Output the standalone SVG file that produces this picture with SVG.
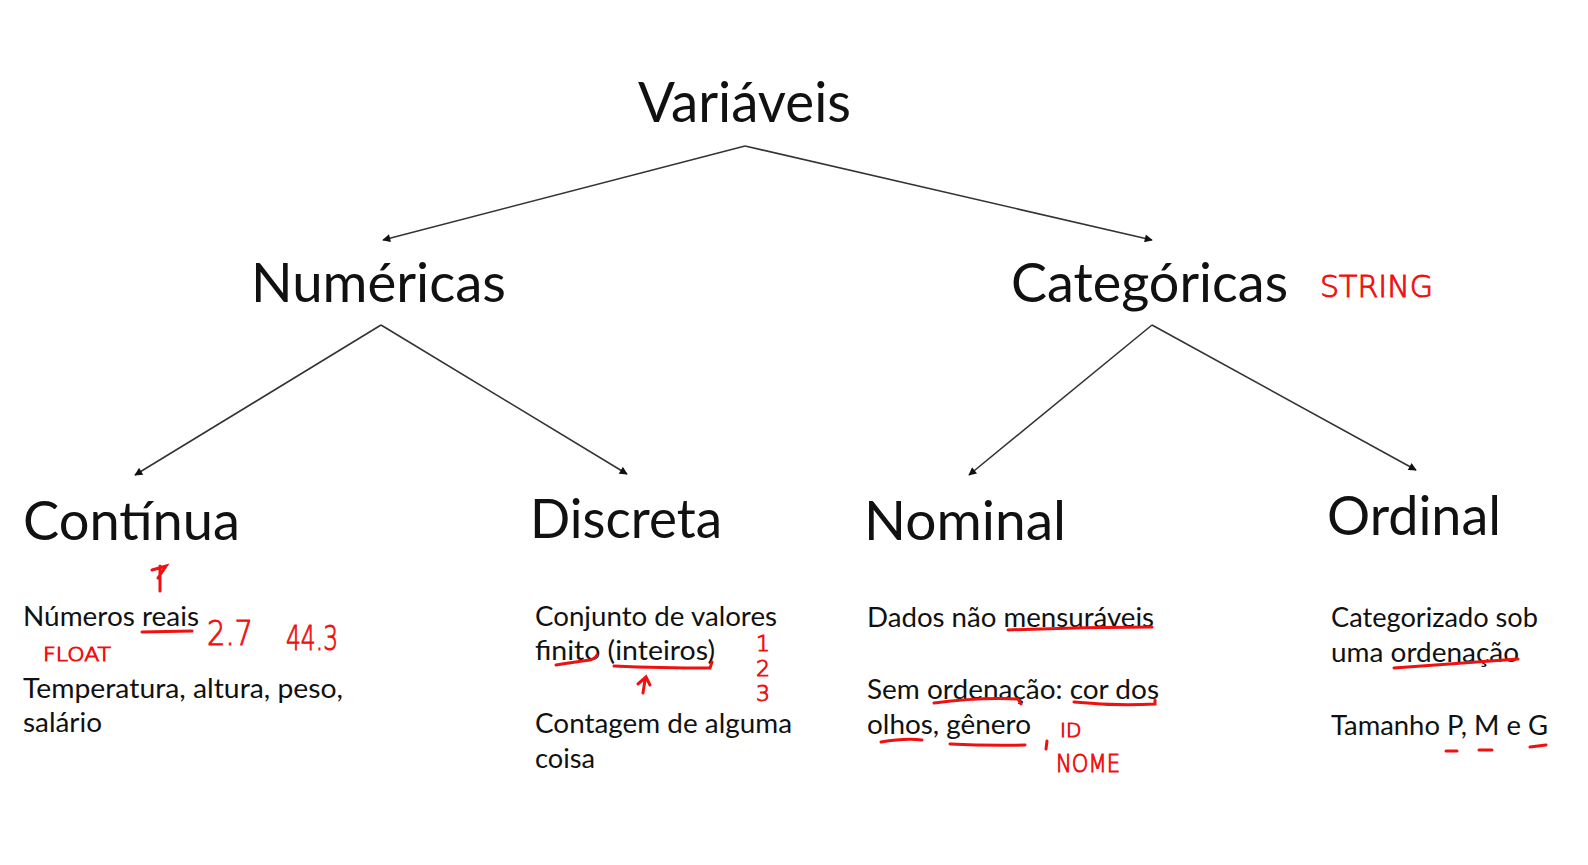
<svg xmlns="http://www.w3.org/2000/svg" width="1588" height="865" viewBox="0 0 1588 865">
<style>
.h{font-family:Lato,"Open Sans","Noto Sans",sans-serif;fill:#111;}
.t1{font-size:56px;}
.t2{font-size:54px;}
.t3{font-size:54px;}
.b{font-family:Lato,"Open Sans","Noto Sans",sans-serif;font-size:26px;fill:#111;}
.r{font-family:"DejaVu Sans",sans-serif;fill:#f01010;stroke:#f01010;stroke-width:1;font-weight:300;}
.con{stroke:#333;stroke-width:1.6;fill:none;}
.ul{stroke:#f01010;stroke-width:3;fill:none;stroke-linecap:round;}
</style>
<defs>
<marker id="ah" viewBox="0 0 10 10" refX="9" refY="5" markerWidth="9" markerHeight="8" orient="auto" markerUnits="userSpaceOnUse">
<path d="M0,0 L10,5 L0,10 z" fill="#111"/>
</marker>
</defs>
<rect width="1588" height="865" fill="#fff"/>
<g id="connectors">
<line class="con" x1="745" y1="146" x2="383" y2="240" marker-end="url(#ah)"/>
<line class="con" x1="745" y1="146" x2="1152" y2="240" marker-end="url(#ah)"/>
<line class="con" x1="381" y1="325" x2="135" y2="475" marker-end="url(#ah)"/>
<line class="con" x1="381" y1="325" x2="627" y2="474" marker-end="url(#ah)"/>
<line class="con" x1="1152" y1="325" x2="969" y2="475" marker-end="url(#ah)"/>
<line class="con" x1="1152" y1="325" x2="1416" y2="470" marker-end="url(#ah)"/>
</g>
<g id="variaveis"><text class="h t1" x="638" y="122" textLength="213" lengthAdjust="spacingAndGlyphs">Variáveis</text></g>
<g id="numericas"><text class="h t2" x="251" y="302" textLength="255" lengthAdjust="spacingAndGlyphs">Numéricas</text></g>
<g id="categoricas"><text class="h t2" x="1011" y="302" textLength="277" lengthAdjust="spacingAndGlyphs">Categóricas</text>
<text class="r" x="1320" y="297" font-size="30" textLength="113" lengthAdjust="spacingAndGlyphs">STRING</text></g>
<g id="continua"><text class="h t3" x="23" y="540" textLength="217" lengthAdjust="spacingAndGlyphs">Contínua</text>
<text class="b" x="23" y="626" textLength="176" lengthAdjust="spacingAndGlyphs">Números reais</text>
<text class="b" x="23" y="698" textLength="320" lengthAdjust="spacingAndGlyphs">Temperatura, altura, peso,</text>
<text class="b" x="23" y="732" textLength="79" lengthAdjust="spacingAndGlyphs">salário</text>
<path class="ul" d="M142,632 L192,631"/>
<path class="ul" d="M160,591 L160,566 M152,570 L166,566 L158,578"/>
<text class="r" x="207" y="645" font-size="34" textLength="46" lengthAdjust="spacingAndGlyphs">2.7</text>
<text class="r" x="286" y="650" font-size="34" textLength="52" lengthAdjust="spacingAndGlyphs">44.3</text>
<text class="r" x="43" y="661" font-size="20" textLength="68" lengthAdjust="spacingAndGlyphs">FLOAT</text>
</g>
<g id="discreta"><text class="h t3" x="530" y="538" textLength="192" lengthAdjust="spacingAndGlyphs">Discreta</text>
<text class="b" x="535" y="626" textLength="242" lengthAdjust="spacingAndGlyphs">Conjunto de valores</text>
<text class="b" x="535" y="660" textLength="180" lengthAdjust="spacingAndGlyphs">finito (inteiros)</text>
<text class="b" x="535" y="733" textLength="257" lengthAdjust="spacingAndGlyphs">Contagem de alguma</text>
<text class="b" x="535" y="768" textLength="60" lengthAdjust="spacingAndGlyphs">coisa</text>
<path class="ul" d="M556,665 Q575,662 590,660 Q596,658 597,655"/>
<path class="ul" d="M614,666 Q660,668 710,668 L712,662"/>
<path class="ul" d="M643,693 L645,680 M638,684 L646,677 L650,685"/>
<text class="r" x="756" y="651" font-size="22">1</text>
<text class="r" x="756" y="676" font-size="22">2</text>
<text class="r" x="756" y="701" font-size="22">3</text>
</g>
<g id="nominal"><text class="h t3" x="864" y="540" textLength="202" lengthAdjust="spacingAndGlyphs">Nominal</text>
<text class="b" x="867" y="627" textLength="287" lengthAdjust="spacingAndGlyphs">Dados não mensuráveis</text>
<text class="b" x="867" y="699" textLength="292" lengthAdjust="spacingAndGlyphs">Sem ordenação: cor dos</text>
<text class="b" x="867" y="734" textLength="164" lengthAdjust="spacingAndGlyphs">olhos, gênero</text>
<path class="ul" d="M1008,630 Q1080,627 1152,627"/>
<path class="ul" d="M934,703 Q980,697 1018,699 L1021,704"/>
<path class="ul" d="M1074,702 Q1115,706 1155,704 L1155,700"/>
<path class="ul" d="M881,742 Q905,738 922,740"/>
<path class="ul" d="M950,744 Q990,746 1025,745"/>
<path class="ul" d="M1047,741 L1046,749"/>
<text class="r" x="1060" y="737" font-size="20">ID</text>
<text class="r" x="1056" y="772" font-size="24" textLength="64" lengthAdjust="spacingAndGlyphs">NOME</text>
</g>
<g id="ordinal"><text class="h t3" x="1327" y="535" textLength="174" lengthAdjust="spacingAndGlyphs">Ordinal</text>
<text class="b" x="1331" y="627" textLength="207" lengthAdjust="spacingAndGlyphs">Categorizado sob</text>
<text class="b" x="1331" y="662" textLength="188" lengthAdjust="spacingAndGlyphs">uma ordenação</text>
<text class="b" x="1331" y="735" textLength="217" lengthAdjust="spacingAndGlyphs">Tamanho P, M e G</text>
<path class="ul" d="M1394,668 Q1450,664 1518,659"/>
<path class="ul" d="M1446,751 L1457,751"/>
<path class="ul" d="M1479,750 L1492,750"/>
<path class="ul" d="M1530,747 L1546,745"/>
</g>
</svg>
